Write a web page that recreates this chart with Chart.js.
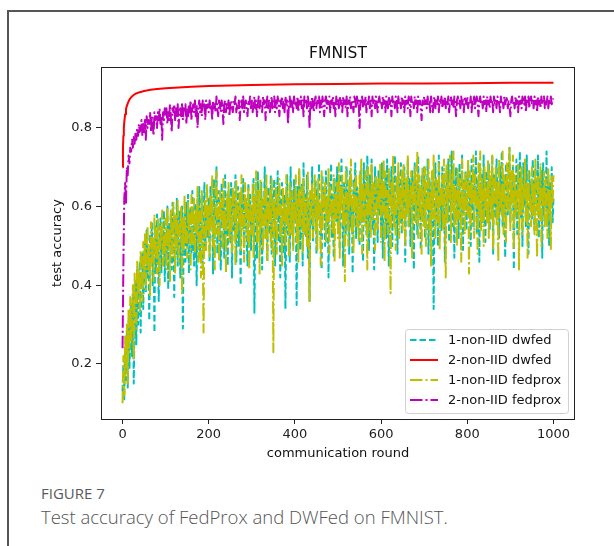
<!DOCTYPE html>
<html>
<head>
<meta charset="utf-8">
<script src="https://cdn.jsdelivr.net/npm/chart.js@4"></script>
<style>
html,body{margin:0;padding:0;background:#fff;width:614px;height:546px;overflow:hidden;}
#card{position:absolute;left:7px;top:10px;width:640px;height:600px;border:2px solid #555;border-right:none;border-bottom:none;}
#wrap{position:absolute;left:0;top:0;width:614px;height:480px;}
#fig{position:absolute;left:41px;top:483px;font-family:"Open Sans",sans-serif;font-size:15px;color:#5a5a5a;line-height:20px;}
#cap{position:absolute;left:41px;top:504px;font-family:"Open Sans",sans-serif;font-weight:300;font-size:18.5px;color:#555;white-space:nowrap;line-height:26px;}
</style>
</head>
<body>
<div id="card"></div>
<div id="wrap"><canvas id="c" width="614" height="480"></canvas></div>
<div id="fig">FIGURE 7</div>
<div id="cap">Test accuracy of FedProx and DWFed on FMNIST.</div>
<script>
// ---- data: one value every 2 rounds (0..1000) ----
const rounds = Array.from({length: 501}, (_, i) => i * 2);

const dwfed1 = [
0.13,0.20,0.11,0.24,0.16,0.28,0.14,0.31,0.19,0.27,0.35,0.22,0.38,0.15,0.33,0.41,0.25,0.44,0.30,0.39,0.46,0.28,0.42,0.48,0.34,
0.45,0.51,0.38,0.54,0.42,0.49,0.31,0.53,0.46,0.56,0.40,0.50,0.28,0.55,0.44,0.58,0.47,0.36,0.52,0.57,0.43,0.54,0.49,0.59,0.41,
0.53,0.47,0.60,0.39,0.56,0.50,0.58,0.44,0.61,0.52,0.37,0.57,0.48,0.62,0.45,0.55,0.59,0.42,0.51,0.60,0.29,0.54,0.58,0.46,0.61,
0.50,0.63,0.43,0.57,0.60,0.48,0.64,0.53,0.45,0.61,0.56,0.40,0.62,0.51,0.65,0.47,0.58,0.63,0.44,0.55,0.66,0.49,0.60,0.57,0.52,
0.62,0.46,0.65,0.55,0.59,0.43,0.67,0.52,0.61,0.70,0.48,0.58,0.64,0.50,0.44,0.66,0.56,0.62,0.47,0.68,0.53,0.59,0.45,0.64,0.57,
0.51,0.66,0.42,0.60,0.63,0.54,0.68,0.46,0.57,0.65,0.50,0.61,0.40,0.64,0.55,0.67,0.48,0.59,0.62,0.52,0.45,0.66,0.58,0.63,0.49,
0.60,0.54,0.67,0.33,0.58,0.63,0.47,0.69,0.55,0.61,0.50,0.66,0.44,0.62,0.57,0.70,0.52,0.59,0.46,0.65,0.60,0.53,0.68,0.48,0.63,
0.56,0.67,0.45,0.61,0.58,0.69,0.51,0.64,0.42,0.60,0.66,0.55,0.48,0.63,0.34,0.59,0.68,0.53,0.62,0.46,0.70,0.57,0.64,0.50,0.67,
0.58,0.62,0.35,0.65,0.54,0.69,0.49,0.61,0.66,0.45,0.71,0.56,0.63,0.52,0.68,0.47,0.60,0.36,0.64,0.55,0.70,0.51,0.62,0.58,0.67,
0.48,0.65,0.57,0.71,0.53,0.60,0.44,0.68,0.59,0.64,0.50,0.69,0.55,0.62,0.42,0.66,0.58,0.71,0.52,0.63,0.47,0.67,0.60,0.56,0.70,
0.54,0.68,0.49,0.63,0.72,0.58,0.45,0.66,0.61,0.53,0.70,0.57,0.64,0.48,0.69,0.55,0.62,0.43,0.67,0.60,0.71,0.52,0.65,0.58,0.63,
0.50,0.69,0.56,0.64,0.46,0.71,0.59,0.66,0.53,0.73,0.61,0.49,0.68,0.57,0.72,0.54,0.63,0.44,0.70,0.60,0.65,0.51,0.69,0.58,0.66,
0.55,0.71,0.47,0.64,0.60,0.68,0.52,0.72,0.57,0.45,0.67,0.62,0.70,0.50,0.65,0.59,0.73,0.54,0.61,0.48,0.69,0.63,0.56,0.71,0.53,
0.66,0.58,0.70,0.46,0.64,0.61,0.72,0.55,0.67,0.50,0.62,0.69,0.57,0.44,0.71,0.60,0.66,0.53,0.73,0.58,0.63,0.49,0.68,0.61,0.56,
0.70,0.52,0.65,0.59,0.72,0.48,0.67,0.62,0.55,0.69,0.58,0.34,0.64,0.71,0.57,0.66,0.50,0.73,0.60,0.63,0.54,0.70,0.58,0.67,0.46,
0.62,0.69,0.56,0.72,0.51,0.65,0.60,0.74,0.55,0.68,0.47,0.63,0.70,0.58,0.66,0.52,0.71,0.61,0.57,0.73,0.49,0.67,0.62,0.69,0.54,
0.64,0.71,0.58,0.66,0.50,0.72,0.61,0.55,0.69,0.63,0.74,0.53,0.67,0.59,0.46,0.70,0.62,0.68,0.56,0.73,0.60,0.51,0.69,0.64,0.58,
0.71,0.54,0.66,0.61,0.73,0.48,0.68,0.63,0.57,0.72,0.60,0.65,0.52,0.70,0.59,0.74,0.55,0.67,0.62,0.47,0.71,0.64,0.58,0.69,0.75,
0.56,0.66,0.61,0.70,0.44,0.64,0.58,0.72,0.53,0.68,0.62,0.74,0.57,0.65,0.50,0.71,0.60,0.67,0.55,0.73,0.59,0.48,0.69,0.63,0.66,
0.57,0.72,0.61,0.54,0.70,0.64,0.59,0.73,0.52,0.67,0.62,0.69,0.47,0.71,0.58,0.65,0.60,0.74,0.55,0.68,0.50,0.66,0.61,0.70,0.56,
0.62
];

const fedprox1 = [
0.10,0.22,0.12,0.27,0.18,0.30,0.15,0.34,0.23,0.37,0.26,0.32,0.40,0.21,0.43,0.35,0.29,0.46,0.38,0.44,0.33,0.49,0.41,0.36,0.51,
0.42,0.53,0.39,0.48,0.55,0.44,0.50,0.37,0.56,0.46,0.52,0.41,0.58,0.47,0.54,0.43,0.57,0.49,0.40,0.55,0.51,0.59,0.45,0.53,0.48,
0.57,0.44,0.60,0.50,0.54,0.41,0.59,0.52,0.47,0.61,0.55,0.43,0.58,0.50,0.62,0.46,0.56,0.53,0.60,0.38,0.57,0.49,0.63,0.51,0.55,
0.47,0.61,0.54,0.58,0.44,0.63,0.50,0.57,0.62,0.48,0.59,0.53,0.65,0.46,0.60,0.56,0.42,0.64,0.51,0.28,0.58,0.62,0.49,0.66,0.54,
0.60,0.47,0.63,0.55,0.68,0.50,0.58,0.44,0.65,0.69,0.53,0.61,0.46,0.64,0.57,0.62,0.49,0.67,0.54,0.59,0.43,0.63,0.56,0.66,0.51,
0.62,0.55,0.48,0.65,0.58,0.63,0.45,0.67,0.52,0.60,0.56,0.64,0.49,0.68,0.54,0.59,0.46,0.66,0.57,0.62,0.51,0.65,0.44,0.61,0.58,
0.53,0.66,0.47,0.63,0.57,0.69,0.51,0.60,0.64,0.43,0.67,0.55,0.62,0.49,0.58,0.65,0.52,0.68,0.46,0.61,0.56,0.64,0.50,0.67,0.59,
0.23,0.62,0.54,0.66,0.48,0.63,0.58,0.67,0.52,0.60,0.45,0.65,0.56,0.61,0.50,0.68,0.55,0.62,0.47,0.66,0.59,0.53,0.64,0.49,0.61,
0.57,0.68,0.51,0.63,0.46,0.70,0.55,0.60,0.65,0.48,0.67,0.53,0.62,0.58,0.50,0.69,0.56,0.36,0.64,0.59,0.66,0.52,0.61,0.68,0.54,
0.63,0.49,0.67,0.57,0.60,0.45,0.69,0.54,0.64,0.59,0.66,0.51,0.62,0.56,0.70,0.48,0.65,0.58,0.61,0.53,0.68,0.46,0.63,0.57,0.66,
0.52,0.71,0.47,0.65,0.59,0.68,0.55,0.62,0.41,0.70,0.57,0.64,0.50,0.67,0.60,0.72,0.53,0.63,0.48,0.66,0.58,0.69,0.55,0.62,0.51,
0.68,0.56,0.72,0.48,0.66,0.61,0.55,0.69,0.63,0.44,0.70,0.58,0.64,0.52,0.71,0.57,0.66,0.60,0.49,0.68,0.62,0.54,0.67,0.59,0.71,
0.51,0.67,0.59,0.72,0.46,0.69,0.56,0.64,0.53,0.70,0.61,0.38,0.66,0.58,0.73,0.55,0.63,0.49,0.68,0.60,0.71,0.52,0.65,0.57,0.69,
0.54,0.71,0.62,0.50,0.67,0.58,0.73,0.55,0.64,0.60,0.69,0.47,0.66,0.61,0.70,0.56,0.63,0.74,0.52,0.68,0.59,0.65,0.48,0.70,0.57,
0.55,0.70,0.50,0.66,0.59,0.72,0.53,0.64,0.45,0.69,0.57,0.73,0.61,0.52,0.67,0.63,0.56,0.71,0.49,0.65,0.60,0.68,0.54,0.72,0.58,
0.42,0.71,0.56,0.66,0.62,0.73,0.51,0.68,0.59,0.74,0.55,0.65,0.61,0.50,0.70,0.57,0.67,0.63,0.46,0.72,0.58,0.66,0.53,0.69,0.61,
0.58,0.72,0.43,0.69,0.55,0.66,0.61,0.73,0.52,0.68,0.60,0.64,0.48,0.71,0.57,0.74,0.54,0.67,0.62,0.50,0.70,0.59,0.65,0.56,0.72,
0.52,0.69,0.63,0.57,0.73,0.49,0.67,0.61,0.70,0.55,0.66,0.46,0.72,0.60,0.64,0.58,0.74,0.53,0.68,0.62,0.51,0.71,0.59,0.66,0.75,
0.54,0.69,0.61,0.73,0.49,0.68,0.57,0.64,0.60,0.71,0.44,0.67,0.58,0.70,0.53,0.65,0.62,0.72,0.56,0.66,0.47,0.69,0.60,0.63,0.55,
0.70,0.58,0.66,0.53,0.72,0.61,0.47,0.68,0.63,0.57,0.71,0.50,0.65,0.60,0.69,0.55,0.67,0.62,0.52,0.70,0.58,0.64,0.49,0.68,0.61,
0.68
];

const fedprox2 = [
0.24,0.46,0.62,0.66,0.61,0.70,0.68,0.73,0.71,0.75,0.74,0.77,0.75,0.78,0.76,0.79,0.77,0.80,0.78,0.81,0.79,0.80,0.82,0.78,0.81,
0.79,0.82,0.77,0.83,0.80,0.82,0.81,0.84,0.79,0.83,0.81,0.78,0.84,0.82,0.83,0.80,0.84,0.82,0.85,0.81,0.83,0.77,0.84,0.82,0.85,
0.83,0.85,0.81,0.84,0.82,0.86,0.83,0.79,0.85,0.84,0.86,0.82,0.85,0.83,0.86,0.80,0.84,0.85,0.83,0.86,0.82,0.85,0.84,0.86,0.81,
0.85,0.83,0.86,0.84,0.87,0.82,0.85,0.86,0.84,0.87,0.83,0.86,0.80,0.85,0.87,0.84,0.86,0.83,0.87,0.85,0.86,0.82,0.87,0.85,0.86,
0.84,0.87,0.85,0.86,0.82,0.87,0.85,0.86,0.84,0.88,0.85,0.83,0.87,0.86,0.84,0.87,0.85,0.81,0.86,0.87,0.84,0.86,0.85,0.87,0.83,
0.86,0.87,0.85,0.84,0.87,0.86,0.88,0.84,0.86,0.85,0.87,0.82,0.86,0.87,0.85,0.88,0.84,0.86,0.87,0.85,0.83,0.87,0.86,0.88,0.85,
0.87,0.84,0.86,0.88,0.85,0.87,0.83,0.86,0.88,0.85,0.87,0.86,0.84,0.88,0.86,0.87,0.82,0.86,0.88,0.85,0.87,0.84,0.86,0.88,0.85,
0.86,0.88,0.84,0.87,0.85,0.88,0.86,0.83,0.87,0.86,0.88,0.85,0.87,0.84,0.88,0.86,0.87,0.81,0.86,0.88,0.85,0.87,0.86,0.84,0.88,
0.86,0.87,0.85,0.88,0.84,0.87,0.86,0.88,0.85,0.87,0.83,0.88,0.86,0.87,0.85,0.88,0.86,0.80,0.87,0.85,0.88,0.86,0.84,0.87,0.88,
0.85,0.87,0.86,0.88,0.84,0.87,0.85,0.88,0.86,0.83,0.87,0.88,0.85,0.87,0.86,0.88,0.84,0.87,0.86,0.88,0.85,0.87,0.83,0.88,0.86,
0.87,0.85,0.88,0.86,0.87,0.84,0.88,0.86,0.87,0.85,0.88,0.83,0.87,0.86,0.88,0.85,0.87,0.86,0.84,0.88,0.87,0.85,0.88,0.86,0.87,
0.80,0.87,0.86,0.88,0.85,0.87,0.86,0.88,0.84,0.87,0.86,0.88,0.85,0.87,0.83,0.88,0.86,0.87,0.85,0.88,0.86,0.84,0.87,0.88,0.86,
0.87,0.85,0.88,0.86,0.87,0.84,0.88,0.87,0.85,0.88,0.86,0.87,0.83,0.88,0.86,0.87,0.85,0.88,0.87,0.84,0.88,0.86,0.87,0.85,0.88,
0.86,0.87,0.84,0.88,0.86,0.87,0.85,0.88,0.87,0.83,0.88,0.86,0.87,0.85,0.88,0.86,0.87,0.84,0.88,0.86,0.87,0.85,0.82,0.87,0.86,
0.88,0.86,0.87,0.85,0.88,0.86,0.87,0.84,0.88,0.86,0.84,0.87,0.88,0.85,0.87,0.86,0.88,0.84,0.87,0.86,0.88,0.85,0.87,0.86,0.88,
0.85,0.87,0.86,0.88,0.84,0.87,0.88,0.86,0.87,0.85,0.88,0.86,0.83,0.87,0.88,0.86,0.87,0.85,0.88,0.86,0.87,0.84,0.88,0.87,0.86,
0.88,0.85,0.87,0.86,0.88,0.84,0.87,0.86,0.88,0.85,0.87,0.88,0.86,0.83,0.87,0.88,0.86,0.87,0.85,0.88,0.86,0.87,0.84,0.88,0.86,
0.87,0.85,0.88,0.86,0.87,0.84,0.88,0.86,0.87,0.85,0.88,0.87,0.86,0.84,0.88,0.86,0.87,0.85,0.88,0.86,0.87,0.88,0.85,0.87,0.86,
0.83,0.87,0.88,0.86,0.87,0.85,0.88,0.86,0.87,0.84,0.88,0.86,0.87,0.85,0.88,0.87,0.86,0.88,0.84,0.87,0.86,0.88,0.85,0.87,0.88,
0.86,0.87,0.85,0.88,0.86,0.87,0.84,0.88,0.86,0.87,0.85,0.88,0.86,0.87,0.88,0.85,0.87,0.86,0.88,0.85,0.87,0.86,0.88,0.86,0.87,
0.875
];

const redRounds = [0,1,2,3,4,6,8,10,13,16,20,25,30,40,50,65,80,100,130,160,200,250,300,400,500,600,700,800,900,1000];
const dwfed2 = [0.70,0.75,0.78,0.80,0.815,0.835,0.848,0.856,0.865,0.872,0.878,0.883,0.887,0.891,0.894,0.897,0.899,0.901,0.903,0.905,0.907,0.908,0.909,0.911,0.912,0.913,0.913,0.914,0.915,0.915];

const xTicks = [0, 200, 400, 600, 800, 1000];
const yTicks = [0.2, 0.4, 0.6, 0.8];
const seriesNames = ['1-non-IID dwfed', '2-non-IID dwfed', '1-non-IID fedprox', '2-non-IID fedprox'];

// ---- styles ----
const COLORS = ['#00bfbf', '#ff0000', '#bfbf00', '#bf00bf'];
const DASHES = [[6.5, 3], [], [12.5, 3, 2, 3], [12.5, 3, 2, 3]];
const FONT = 'DejaVu Sans';

const pts = (xs, ys) => xs.map((x, i) => ({x: x, y: ys[i]}));

const datasets = [
  {label: seriesNames[0], data: pts(rounds, dwfed1), order: 4},
  {label: seriesNames[1], data: pts(redRounds, dwfed2), order: 3},
  {label: seriesNames[2], data: pts(rounds, fedprox1), order: 2},
  {label: seriesNames[3], data: pts(rounds, fedprox2), order: 1}
].map((d, i) => Object.assign(d, {
  borderColor: COLORS[i], backgroundColor: COLORS[i], borderWidth: 2,
  borderDash: DASHES[i], pointRadius: 0, fill: false, tension: 0,
  borderCapStyle: 'butt', borderJoinStyle: 'round'
}));

const decor = {
  id: 'decor',
  afterDraw(chart) {
    const {ctx, chartArea: a} = chart;
    ctx.save();
    ctx.strokeStyle = '#222'; ctx.lineWidth = 1; ctx.setLineDash([]);
    ctx.strokeRect(Math.round(a.left) + 0.5, Math.round(a.top) + 0.5, Math.round(a.right - a.left) - 1, Math.round(a.bottom - a.top));
    ctx.fillStyle = '#111'; ctx.font = '15.5px "' + FONT + '"';
    ctx.textAlign = 'center'; ctx.textBaseline = 'middle';
    ctx.fillText('FMNIST', (a.left + a.right) / 2, a.top - 13);
    const w = 163, h = 84;
    const bx = a.right - 7 - w, by = a.bottom - 6 - h;
    ctx.beginPath();
    if (ctx.roundRect) ctx.roundRect(bx + 0.5, by + 0.5, w, h, 3); else ctx.rect(bx + 0.5, by + 0.5, w, h);
    ctx.fillStyle = 'rgba(255,255,255,0.85)'; ctx.fill();
    ctx.strokeStyle = '#d0d0d0'; ctx.lineWidth = 1; ctx.stroke();
    ctx.font = '13px "' + FONT + '"'; ctx.textAlign = 'left';
    seriesNames.forEach((name, i) => {
      const y = by + 11 + i * 20;
      ctx.beginPath(); ctx.setLineDash(DASHES[i]); ctx.lineCap = 'butt';
      ctx.strokeStyle = COLORS[i]; ctx.lineWidth = 2;
      ctx.moveTo(bx + 5, y); ctx.lineTo(bx + 33, y); ctx.stroke();
      ctx.setLineDash([]);
      ctx.fillStyle = '#111'; ctx.fillText(name, bx + 43, y + 0.5);
    });
    ctx.restore();
  }
};

new Chart(document.getElementById('c'), {
  type: 'line',
  data: {datasets},
  options: {
    responsive: false, maintainAspectRatio: false, animation: false, events: [],
    layout: {padding: {top: 67, right: 39, left: 0, bottom: 0}},
    plugins: {legend: {display: false}, tooltip: {enabled: false}, title: {display: false}},
    scales: {
      x: {
        type: 'linear', min: -50, max: 1050,
        afterFit: s => { s.height = 61; },
        afterBuildTicks: s => { s.ticks = xTicks.map(v => ({value: v})); },
        grid: {display: true, drawOnChartArea: false, drawTicks: true, tickLength: 5, color: '#222', tickColor: '#222'},
        border: {display: false},
        ticks: {color: '#222', font: {family: FONT, size: 13}, padding: 3, maxRotation: 0, autoSkip: false, callback: v => String(v)},
        title: {display: true, text: 'communication round', color: '#111', font: {family: FONT, size: 13}, padding: {top: 0, bottom: 19}}
      },
      y: {
        type: 'linear', min: 0.06, max: 0.955,
        afterFit: s => { s.width = 101; },
        afterBuildTicks: s => { s.ticks = yTicks.map(v => ({value: v})); },
        grid: {display: true, drawOnChartArea: false, drawTicks: true, tickLength: 5, color: '#222', tickColor: '#222'},
        border: {display: false},
        ticks: {color: '#222', font: {family: FONT, size: 13}, padding: 4, callback: v => v.toFixed(1)},
        title: {display: true, text: 'test accuracy', color: '#111', font: {family: FONT, size: 13}, padding: {top: 50, bottom: 0}}
      }
    }
  },
  plugins: [decor]
});
</script>
</body>
</html>
